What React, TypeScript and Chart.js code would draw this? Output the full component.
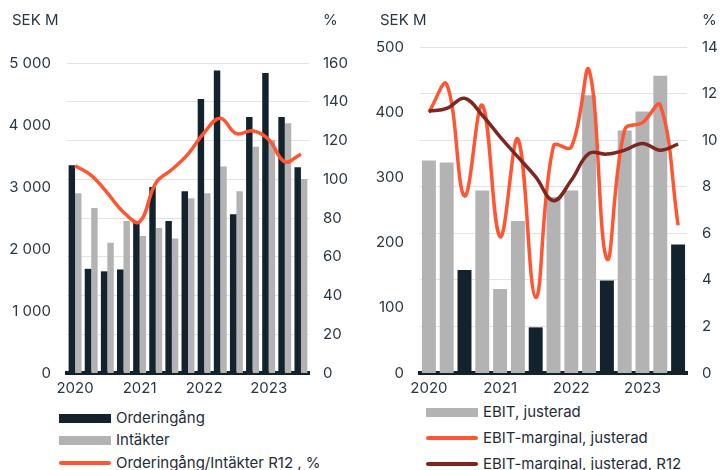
import React, { useEffect, useRef } from "react";
import { Chart, registerables } from "chart.js";
Chart.register(...registerables);

const quarters = [
  "2020 Q1", "2020 Q2", "2020 Q3", "2020 Q4",
  "2021 Q1", "2021 Q2", "2021 Q3", "2021 Q4",
  "2022 Q1", "2022 Q2", "2022 Q3", "2022 Q4",
  "2023 Q1", "2023 Q2", "2023 Q3",
];

const orderIntake = [3350, 1680, 1640, 1670, 2430, 3000, 2450, 2930, 4420, 4880, 2560, 4130, 4840, 4130, 3320];
const revenue = [2900, 2660, 2100, 2450, 2210, 2340, 2170, 2820, 2900, 3330, 2930, 3650, 3760, 4030, 3130];
const orderRevenueR12 = [107, 102, 93, 83, 78, 98, 105, 113, 124, 131.5, 123.5, 125, 120.5, 109, 113];

const ebitAdj = [326, 323, 158, 280, 129, 233, 70, 270, 280, 426, 142, 372, 401, 456, 197];
const ebitMargin = [11.2, 12.4, 7.6, 11.5, 5.85, 10.05, 3.25, 9.75, 9.7, 13.0, 4.9, 10.45, 10.75, 11.5, 6.35];
const ebitMarginR12 = [11.24, 11.36, 11.8, 11.07, 10.14, 9.28, 8.42, 7.4, 8.28, 9.43, 9.4, 9.57, 9.86, 9.57, 9.83];

const leftTicksSek = [0, 1000, 2000, 3000, 4000, 5000];
const leftTicksPct = [0, 20, 40, 60, 80, 100, 120, 140, 160];
const rightTicksSek = [0, 100, 200, 300, 400, 500];
const rightTicksPct = [0, 2, 4, 6, 8, 10, 12, 14];

const FONT = "Inter, 'Open Sans', sans-serif";
const TEXT = "#2B3742";
const DARK = "#12232E";
const GRAY = "#B3B3B3";
const ORANGE = "#FF5533";
const DARKRED = "#7E2620";
const GRID = "#E3E3E3";

const fmtSek = (v: number) => (v >= 1000 ? String(v).replace(/\B(?=(\d{3})+(?!\d))/g, " ") : String(v));
const yearTick = (_v: any, i: number) => (quarters[i].endsWith("Q1") ? quarters[i].slice(0, 4) : "");

function titlesPlugin(leftX: number, pctX: number) {
  return {
    id: "titles",
    afterDraw(chart: any) {
      const ctx = chart.ctx;
      ctx.save();
      ctx.font = `15px ${FONT}`;
      ctx.fillStyle = TEXT;
      ctx.textBaseline = "middle";
      ctx.textAlign = "left";
      ctx.fillText("SEK M", leftX, 20);
      ctx.fillText("%", pctX, 20);
      ctx.restore();
    },
  };
}

function LeftChart() {
  const ref = useRef<HTMLCanvasElement>(null);
  useEffect(() => {
    const chart = new Chart(ref.current!, {
      type: "bar",
      data: {
        labels: quarters,
        datasets: [
          {
            type: "line",
            label: "Orderingång/Intäkter R12 , %",
            data: orderRevenueR12,
            borderColor: ORANGE,
            borderWidth: 3.5,
            pointRadius: 0,
            tension: 0.4,
            yAxisID: "yPct",
            order: 0,
          } as any,
          {
            label: "Orderingång",
            data: orderIntake,
            backgroundColor: DARK,
            yAxisID: "ySek",
            categoryPercentage: 0.8,
            barPercentage: 1.0,
            order: 1,
          },
          {
            label: "Intäkter",
            data: revenue,
            backgroundColor: GRAY,
            yAxisID: "ySek",
            categoryPercentage: 0.8,
            barPercentage: 1.0,
            order: 1,
          },
        ],
      },
      options: {
        responsive: false,
        animation: false,
        layout: { padding: { top: 63, bottom: 0, left: 0, right: 0 } },
        plugins: { legend: { display: false }, tooltip: { enabled: false } },
        scales: {
          x: {
            grid: { display: false, drawTicks: false },
            border: { display: true, color: DARK, width: 4 },
            ticks: { autoSkip: false, maxRotation: 0, padding: 6, color: TEXT, font: { family: FONT, size: 15 }, callback: yearTick },
            afterFit: (s: any) => { s.height = 27; },
          },
          ySek: {
            position: "left",
            min: 0,
            max: 5000,
            afterBuildTicks: (s: any) => { s.ticks = leftTicksSek.map((v) => ({ value: v })); },
            grid: { display: false, drawTicks: false },
            border: { display: false },
            ticks: { padding: 16, color: TEXT, font: { family: FONT, size: 15 }, callback: (v: any) => fmtSek(Number(v)) },
            afterFit: (s: any) => { s.width = 67; },
          },
          yPct: {
            position: "right",
            min: 0,
            max: 160,
            afterBuildTicks: (s: any) => { s.ticks = leftTicksPct.map((v) => ({ value: v })); },
            grid: { display: true, drawTicks: false, color: GRID, lineWidth: 1 },
            border: { display: false },
            ticks: { padding: 14, color: TEXT, font: { family: FONT, size: 15 } },
            afterFit: (s: any) => { s.width = 51; },
          },
        },
      } as any,
      plugins: [titlesPlugin(12, 323)],
    });
    return () => chart.destroy();
  }, []);
  return <canvas ref={ref} width={360} height={400} style={{ position: "absolute", left: 0, top: 0, width: 360, height: 400 }} />;
}

function RightChart() {
  const ref = useRef<HTMLCanvasElement>(null);
  useEffect(() => {
    const chart = new Chart(ref.current!, {
      type: "bar",
      data: {
        labels: quarters,
        datasets: [
          {
            type: "line",
            label: "EBIT-marginal, justerad, R12",
            data: ebitMarginR12,
            borderColor: DARKRED,
            borderWidth: 3.5,
            pointRadius: 0,
            tension: 0.4,
            yAxisID: "yPct",
            order: 0,
          } as any,
          {
            type: "line",
            label: "EBIT-marginal, justerad",
            data: ebitMargin,
            borderColor: ORANGE,
            borderWidth: 3.5,
            pointRadius: 0,
            tension: 0.4,
            yAxisID: "yPct",
            order: 1,
          } as any,
          {
            label: "EBIT, justerad",
            data: ebitAdj,
            backgroundColor: quarters.map((q) => (q.endsWith("Q3") ? DARK : GRAY)),
            yAxisID: "ySek",
            categoryPercentage: 0.8,
            barPercentage: 0.98,
            order: 2,
          },
        ],
      },
      options: {
        responsive: false,
        animation: false,
        layout: { padding: { top: 47, bottom: 0, left: 0, right: 0 } },
        plugins: { legend: { display: false }, tooltip: { enabled: false } },
        scales: {
          x: {
            grid: { display: false, drawTicks: false },
            border: { display: true, color: DARK, width: 4 },
            ticks: { autoSkip: false, maxRotation: 0, padding: 6, color: TEXT, font: { family: FONT, size: 15 }, callback: yearTick },
            afterFit: (s: any) => { s.height = 27; },
          },
          ySek: {
            position: "left",
            min: 0,
            max: 500,
            afterBuildTicks: (s: any) => { s.ticks = rightTicksSek.map((v) => ({ value: v })); },
            grid: { display: false, drawTicks: false },
            border: { display: false },
            ticks: { padding: 16, color: TEXT, font: { family: FONT, size: 15 } },
            afterFit: (s: any) => { s.width = 60; },
          },
          yPct: {
            position: "right",
            min: 0,
            max: 14,
            afterBuildTicks: (s: any) => { s.ticks = rightTicksPct.map((v) => ({ value: v })); },
            grid: { display: true, drawTicks: false, color: GRID, lineWidth: 1 },
            border: { display: false },
            ticks: { padding: 15, color: TEXT, font: { family: FONT, size: 15 } },
            afterFit: (s: any) => { s.width = 40; },
          },
        },
      } as any,
      plugins: [titlesPlugin(20, 342)],
    });
    return () => chart.destroy();
  }, []);
  return <canvas ref={ref} width={367} height={400} style={{ position: "absolute", left: 360, top: 0, width: 367, height: 400 }} />;
}

type LegendItem = { label: string; color: string; kind: "bar" | "line"; cy: number };

const leftLegend: LegendItem[] = [
  { label: "Orderingång", color: DARK, kind: "bar", cy: 418 },
  { label: "Intäkter", color: GRAY, kind: "bar", cy: 440 },
  { label: "Orderingång/Intäkter R12 , %", color: ORANGE, kind: "line", cy: 462.5 },
];
const rightLegend: LegendItem[] = [
  { label: "EBIT, justerad", color: GRAY, kind: "bar", cy: 412 },
  { label: "EBIT-marginal, justerad", color: ORANGE, kind: "line", cy: 438 },
  { label: "EBIT-marginal, justerad, R12", color: DARKRED, kind: "line", cy: 464 },
];

function Legend({ items, x, w }: { items: LegendItem[]; x: number; w: number }) {
  return (
    <>
      {items.map((it) => (
        <div key={it.label} style={{ position: "absolute", left: x, top: it.cy - 10, height: 20, display: "flex", alignItems: "center", whiteSpace: "nowrap" }}>
          <div
            style={{
              width: w,
              height: it.kind === "bar" ? 9 : 4,
              background: it.color,
              borderRadius: it.kind === "bar" ? 0 : 2,
              marginRight: 5,
            }}
          />
          <span style={{ font: `15px ${FONT}`, color: "#1F2D38", lineHeight: "20px" }}>{it.label}</span>
        </div>
      ))}
    </>
  );
}

export default function App() {
  return (
    <div style={{ position: "fixed", left: 0, top: 0, width: 727, height: 470, overflow: "hidden", background: "#fff" }}>
      <LeftChart />
      <RightChart />
      <Legend items={leftLegend} x={59} w={52} />
      <Legend items={rightLegend} x={426} w={52} />
    </div>
  );
}
